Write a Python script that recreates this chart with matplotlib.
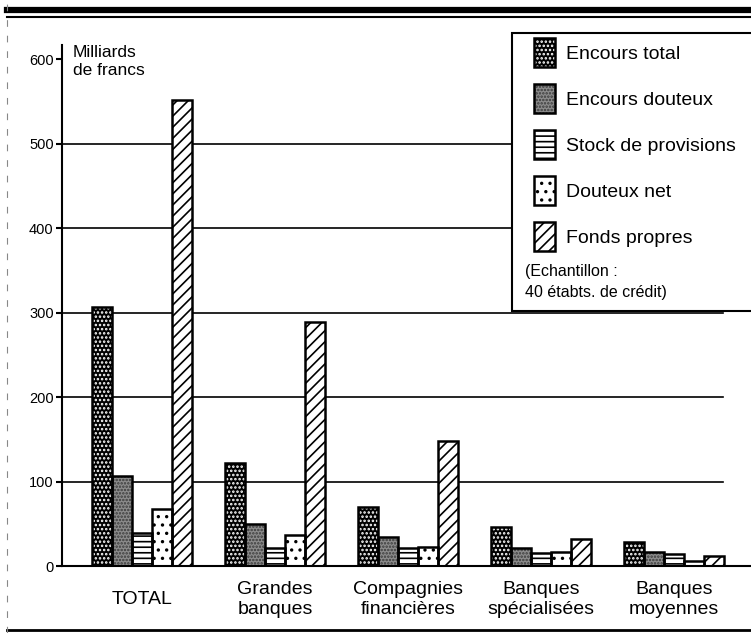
import numpy as np
import matplotlib.pyplot as plt
from matplotlib.patches import Patch, Rectangle
from matplotlib.lines import Line2D
from matplotlib.legend_handler import HandlerTuple

plt.rcParams['font.family'] = ['Liberation Sans', 'DejaVu Sans']
plt.rcParams['hatch.linewidth'] = 1.2

categories = ['TOTAL', 'Grandes\nbanques', 'Compagnies\nfinancières',
              'Banques\nspécialisées', 'Banques\nmoyennes']
series_names = ['Encours total', 'Encours douteux', 'Stock de provisions',
                'Douteux net', 'Fonds propres']
encours_total = [306, 122, 70, 46, 28]
encours_douteux = [106, 50, 34, 21, 17]
stock_provisions = [39, 21, 21, 15, 14]
douteux_net = [68, 37, 23, 17, 6]
fonds_propres = [551, 289, 148, 32, 12]
yticks = [0, 100, 200, 300, 400, 500, 600]

series = [encours_total, encours_douteux, stock_provisions, douteux_net, fonds_propres]
# (face, hatch colour, hatch)
styles = [('black', 'white', '....'),
          ('#8c8c8c', '#3a3a3a', '.....'),
          ('white', 'black', '---'),
          ('white', 'black', '..'),
          ('white', 'black', '///')]

fig = plt.figure(figsize=(7.51, 6.33), dpi=100)
ax = fig.add_axes([62/751, 1 - 566/633, 1 - 62/751, 521/633])

x = np.arange(len(categories))
w = 0.15
for i, (vals, (fc, hc, h)) in enumerate(zip(series, styles)):
    xs = x + (i - 2) * w
    ax.bar(xs, vals, w, color=fc, edgecolor=hc, hatch=h, lw=0, zorder=2)
    ax.bar(xs, vals, w, fill=False, edgecolor='black', lw=1.8, zorder=3)

for y in yticks[1:-1]:
    ax.axhline(y, xmin=0, xmax=(723 - 62) / (751 - 62), color='black', lw=1.2, zorder=1)

ax.set_xlim(-0.602, 4.579)
ax.set_ylim(0, 616.6)
ax.set_yticks(yticks)
ax.set_xticks(x)
ax.set_xticklabels(categories, fontsize=14, linespacing=1.2)
for lab in ax.get_xticklabels():
    lab.set_va('center')
ax.tick_params(axis='x', length=0, pad=24)
ax.tick_params(axis='y', direction='out', length=4, width=1.5, labelsize=10.5, pad=2)
for s in ['top', 'right']:
    ax.spines[s].set_visible(False)
ax.spines['left'].set_linewidth(1.5)
ax.spines['bottom'].set_linewidth(1.5)

ax.annotate('Milliards\nde francs', xy=(0, 600), xycoords=('axes fraction', 'data'),
            xytext=(8, 10), textcoords='offset points', va='top', ha='left',
            fontsize=12.5, linespacing=1.2)

# legend box
fig.add_artist(Rectangle((512/751, 1 - 311/633), 250/751, 278/633, transform=fig.transFigure,
                         facecolor='white', edgecolor='black', lw=1.5, zorder=5))
handles = []
for fc, hc, h in styles:
    handles.append((Patch(facecolor=fc, edgecolor=hc, hatch=h, lw=0),
                    Patch(fill=False, edgecolor='black', lw=1.8)))
leg = fig.legend(handles, series_names, handler_map={tuple: HandlerTuple(ndivide=1, pad=0)},
                 loc='upper left', bbox_to_anchor=(534/751, 1 - 38/633), frameon=False,
                 fontsize=14, handlelength=1.1, handleheight=1.92, labelspacing=0.87,
                 handletextpad=0.55, borderaxespad=0, borderpad=0)
leg.set_zorder(6)
fig.text(525/751, 1 - 282/633, '(Echantillon :\n40 étabts. de crédit)', fontsize=11.5,
         va='center', ha='left', linespacing=1.45, zorder=7)

# page rules
fig.add_artist(Line2D([7/751, 1], [1 - 10/633] * 2, color='black', lw=4.5))
fig.add_artist(Line2D([7/751, 1], [1 - 16.5/633] * 2, color='black', lw=1.5))
fig.add_artist(Line2D([7/751, 1], [1 - 630/633] * 2, color='black', lw=2))
fig.add_artist(Line2D([7/751, 7/751], [0, 1], color='#888888', lw=0.8, ls=(0, (6, 8))))

fig.savefig('out.png', dpi=100)
